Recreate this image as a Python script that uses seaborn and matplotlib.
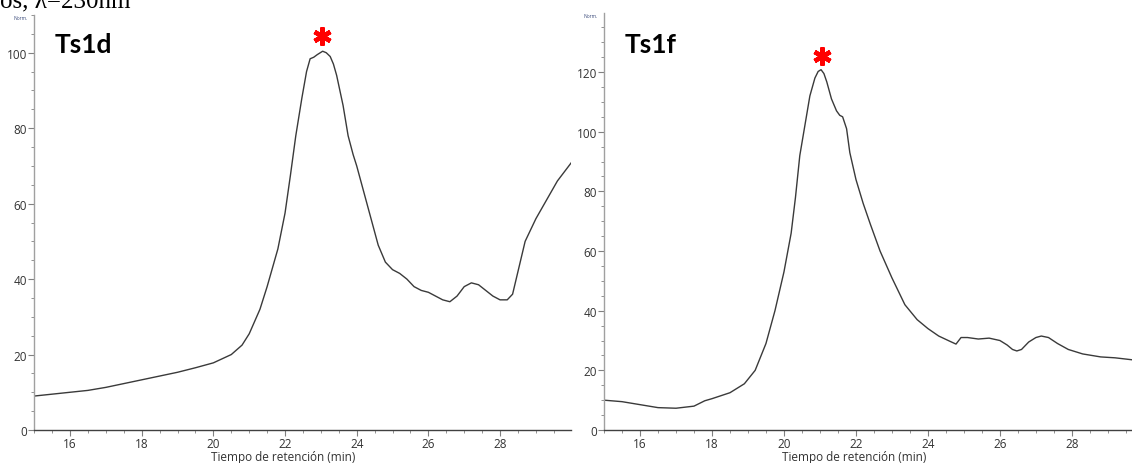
import numpy as np
import pandas as pd
import matplotlib
matplotlib.use("Agg")
import matplotlib.pyplot as plt
from matplotlib.ticker import MultipleLocator
import seaborn as sns

# --- data -------------------------------------------------------------------
ts1d_time = [15.0, 15.5, 16.0, 16.5, 17.0, 17.5, 18.0, 18.5, 19.0, 19.5, 20.0,
             20.5, 20.8, 21.0, 21.3, 21.5, 21.8, 22.0, 22.15, 22.3, 22.47,
             22.6, 22.7, 22.8, 22.9, 23.05, 23.15, 23.26, 23.35, 23.44, 23.53,
             23.62, 23.76, 23.9, 24.0, 24.2, 24.4, 24.6, 24.8, 25.0, 25.2,
             25.4, 25.6, 25.8, 26.0, 26.2, 26.4, 26.6, 26.8, 27.0, 27.2, 27.4,
             27.6, 27.8, 28.0, 28.2, 28.35, 28.5, 28.7, 29.0, 29.3, 29.6, 30.0]
ts1d_norm = [9.0, 9.5, 10.0, 10.5, 11.3, 12.3, 13.3, 14.3, 15.3, 16.5, 17.8,
             20.0, 22.5, 25.5, 32.0, 38.0, 48.0, 57.5, 67.5, 78.0, 88.0,
             95.0, 98.4, 98.8, 99.5, 100.4, 100.0, 99.0, 97.0, 94.0, 90.0,
             86.0, 78.0, 73.0, 70.0, 63.0, 56.0, 49.0, 44.5, 42.5, 41.5,
             40.0, 38.0, 37.0, 36.5, 35.5, 34.5, 34.0, 35.5, 38.0, 39.0, 38.5,
             37.0, 35.5, 34.5, 34.5, 36.0, 42.0, 50.0, 56.0, 61.0, 66.0, 71.0]

ts1f_time = [15.0, 15.5, 16.0, 16.5, 17.0, 17.5, 17.8, 18.0, 18.5, 18.9, 19.2,
             19.5, 19.75, 20.0, 20.2, 20.32, 20.44, 20.58, 20.72, 20.86, 20.95,
             21.03, 21.11, 21.19, 21.32, 21.46, 21.55, 21.63, 21.74, 21.83,
             22.0, 22.2, 22.4, 22.67, 23.0, 23.36, 23.7, 24.0, 24.3, 24.6,
             24.78, 24.92, 25.1, 25.4, 25.7, 26.0, 26.2, 26.35, 26.47, 26.6,
             26.8, 27.0, 27.15, 27.35, 27.6, 27.9, 28.3, 28.8, 29.2, 29.7]
ts1f_norm = [10.0, 9.5, 8.5, 7.5, 7.3, 8.0, 9.8, 10.5, 12.5, 15.5, 20.0,
             29.0, 40.0, 53.0, 66.0, 78.0, 92.0, 102.0, 112.0, 118.0, 120.2,
             120.8, 119.5, 116.7, 111.0, 107.0, 105.5, 105.0, 101.0, 93.0,
             84.0, 76.0, 69.0, 60.0, 51.0, 42.0, 37.0, 34.0, 31.5, 29.8,
             28.8, 31.0, 31.0, 30.5, 30.8, 30.0, 28.5, 27.0, 26.5, 27.0,
             29.5, 31.0, 31.5, 31.0, 29.0, 27.0, 25.5, 24.5, 24.2, 23.5]

x_ticks = [16, 18, 20, 22, 24, 26, 28]
panel_labels = ["Ts1d", "Ts1f"]
x_label = "Tiempo de retención (min)"
y_unit = "Norm."
peak_marks = [(23.03, 104.5), (21.06, 125.5)]

# --- styling ----------------------------------------------------------------
sns.set_theme(style="white")
plt.rcParams["font.family"] = ["Open Sans", "DejaVu Sans"]

W, H = 1132, 464
fig = plt.figure(figsize=(W / 100, H / 100), dpi=100)

def px_axes(x0, x1, y_top, y_bottom):
    return fig.add_axes([x0 / W, 1 - y_bottom / H, (x1 - x0) / W, (y_bottom - y_top) / H])

ax1 = px_axes(34.2, 571, 16, 431)
ax2 = px_axes(604, 1132, 14, 431)

panels = [
    (ax1, ts1d_time, ts1d_norm, (15, 29.98), (0, 110), 20, 5, 0.464, (55, 45)),
    (ax2, ts1f_time, ts1f_norm, (15, 29.67), (0, 139.8), 20, 5, 0.473, (625, 45)),
]

for i, (ax, t, y, xl, yl, ymaj, ymin, xlab_pos, lab_px) in enumerate(panels):
    df = pd.DataFrame({"t": t, "y": y})
    sns.lineplot(data=df, x="t", y="y", ax=ax, color="#3a3a3a", linewidth=1.0)
    ax.set_xlim(*xl)
    ax.set_ylim(*yl)
    ax.set_xticks(x_ticks)
    ax.xaxis.set_minor_locator(MultipleLocator(0.5))
    ax.yaxis.set_major_locator(MultipleLocator(ymaj))
    ax.yaxis.set_minor_locator(MultipleLocator(ymin))
    for s in ["top", "right"]:
        ax.spines[s].set_visible(False)
    ax.spines["left"].set_color("#a0a0a0")
    ax.spines["bottom"].set_color("#404040")
    for s in ["left", "bottom"]:
        ax.spines[s].set_linewidth(1.0)
    ax.tick_params(axis="both", which="major", direction="out", length=4,
                   width=0.8, color="#808080", labelsize=8.5, labelcolor="#333333",
                   pad=1.0, bottom=True, left=True)
    ax.tick_params(axis="both", which="minor", direction="out", length=2,
                   width=0.6, color="#808080", bottom=True, left=True)
    ax.set_xlabel(x_label, fontsize=8.5, color="#333333")
    ax.xaxis.set_label_coords(xlab_pos, -0.047)
    ax.set_ylabel("")
    ax.grid(False)
    ax.set_facecolor("white")
    # unit label at top of y axis
    ax.text(-0.012, 1.0, y_unit, transform=ax.transAxes, ha="right", va="top",
            fontsize=3.5, color="#3a4a7a")
    # panel title
    fig.text(lab_px[0] / W, 1 - lab_px[1] / H, panel_labels[i], ha="left",
             va="center", fontsize=19, fontweight="bold", color="black",
             family=["Lato", "DejaVu Sans"])
    # red asterisk above peak
    px, py = peak_marks[i]
    ax.plot([px], [py], marker=(6, 2, 0), markersize=13, markeredgewidth=3.2,
            color="red", clip_on=False)

# partially visible heading at the very top
fig.text(0.0, 1 - 7 / H, "os, λ=230nm", ha="left", va="baseline",
         fontsize=18, color="black", family=["Liberation Serif", "DejaVu Serif"])

fig.savefig("out.png", dpi=100, facecolor="white")
